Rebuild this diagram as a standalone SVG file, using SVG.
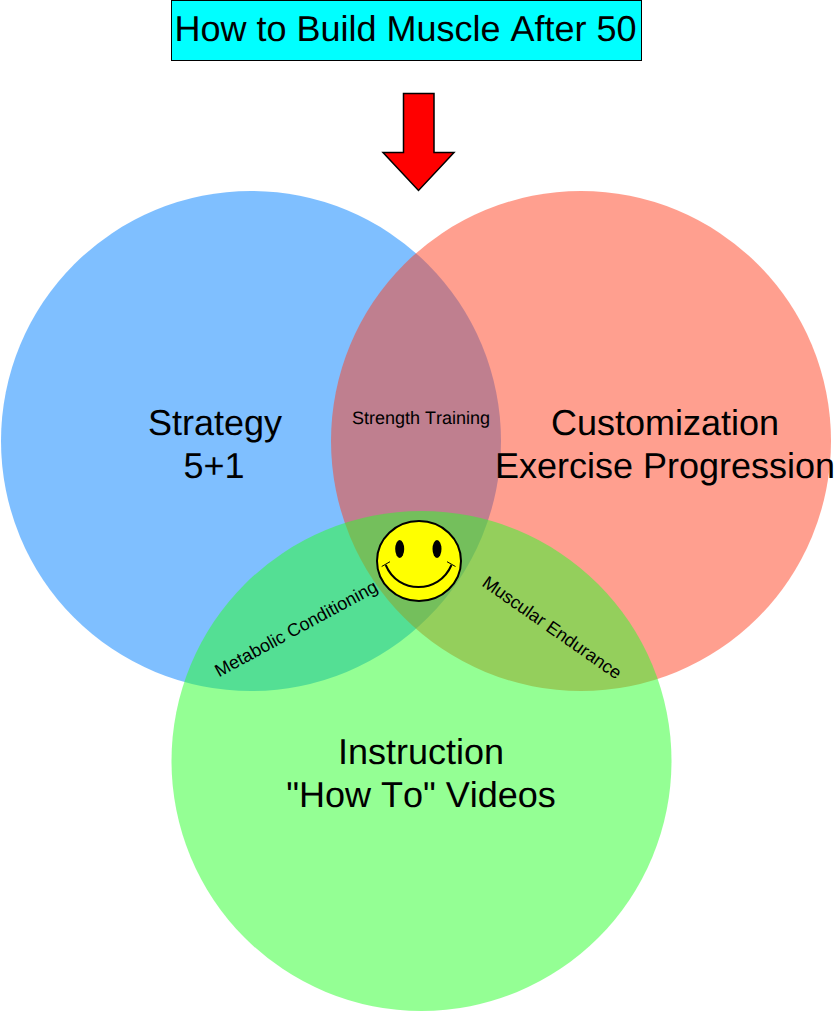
<svg xmlns="http://www.w3.org/2000/svg" width="837" height="1014" viewBox="0 0 837 1014">
<style>
text{font-family:"Liberation Sans",Arial,sans-serif;fill:#000;text-anchor:middle;text-rendering:geometricPrecision;font-kerning:none}
.big{font-size:36px}
.small{font-size:18px}
.ln{stroke:#000;fill:none}
</style>
<rect width="837" height="1014" fill="#fff"/>
<g id="circle-strategy"><circle cx="251" cy="441" r="250" fill="#0080ff" fill-opacity="0.5"/></g>
<g id="circle-customization"><circle cx="581" cy="441" r="250" fill="#ff4020" fill-opacity="0.5"/></g>
<g id="circle-instruction"><circle cx="421.5" cy="761" r="250" fill="#2aff2a" fill-opacity="0.5"/></g>
<g id="title"><rect x="171.500" y="0.500" width="470" height="60" fill="#00ffff" stroke="#000"/><text class="big" x="405.500" y="40.500">How to Build Muscle After 50</text></g>
<g id="connectors"><path d="M403.500 93.500H434V152.500H454L418.500 190.500L383 152.500H403.500Z" fill="#ff0000" stroke="#000" stroke-width="1.500"/></g>
<g id="label-strategy"><text class="big" x="215" y="434.500">Strategy</text><text class="big" x="214" y="477.500">5+1</text></g>
<g id="label-customization"><text class="big" x="665" y="434.500">Customization</text><text class="big" x="665" y="477.500">Exercise Progression</text></g>
<g id="label-instruction"><text class="big" x="421" y="763.500">Instruction</text><text class="big" x="421" y="806.500">"How To" Videos</text></g>
<g id="label-strength"><text class="small" x="421" y="424">Strength Training</text></g>
<g id="label-metabolic"><text class="small" transform="translate(299 634) rotate(-28.500)">Metabolic Conditioning</text></g>
<g id="label-endurance"><text class="small" transform="translate(548.500 632.500) rotate(35)">Muscular Endurance</text></g>
<g id="smiley">
<ellipse cx="419" cy="561" rx="42" ry="40" fill="#ffff00" stroke="#000" stroke-width="2"/>
<ellipse cx="399.700" cy="549" rx="4.500" ry="9" fill="#000"/>
<ellipse cx="437" cy="549" rx="4.500" ry="9" fill="#000"/>
<path class="ln" stroke-width="2" d="M385.700 565C392 580 405 587 418.500 587C432 587 445 580 451.500 565"/>
<path class="ln" d="M381.700 566.500L390 561.700M447 561.700L455.500 566.500"/>
</g>
</svg>
